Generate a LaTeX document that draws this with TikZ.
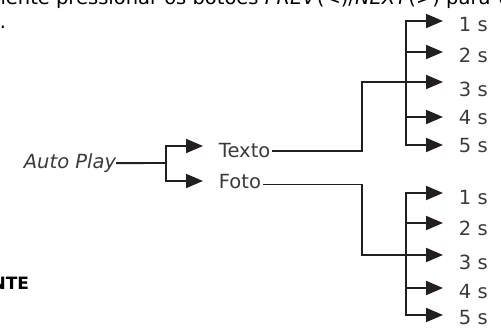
\documentclass[tikz,border=0pt]{standalone}
\usepackage{fontspec}
\setmainfont{DejaVu Sans}
\usetikzlibrary{arrows.meta}
\usetikzlibrary{positioning}
\definecolor{inkline}{HTML}{231F20}
\definecolor{inktext}{HTML}{3A3A3A}

\begin{document}
\begin{tikzpicture}[x=1pt,y=-1pt,>={Triangle[length=17pt,width=14pt]},
	line width=1.9pt,
	lbl/.style={inner sep=0pt,text=inktext,font=\fontsize{19.5}{22}\selectfont},
	wire/.style={draw=inkline,line cap=rect},
	tip/.style={wire,->,shorten >=15pt}]

	\useasboundingbox (0,0) rectangle (501,336);
	\clip (0,0) rectangle (501,336);

	% cut-off text of the page
	\node[lbl,anchor=base west,text=black] (head) at (-14,5) {mente pressionar os botões \textit{PREV}(<)/\textit{NEXT}(>) para v};
	\node[lbl,anchor=base west,text=black] (dot) at (-1,29) {.};
	\node[lbl,anchor=base east,text=black,font=\fontsize{17}{20}\selectfont\bfseries] (warn) at (30,290) {NTE};

	% modes
	\node[lbl,anchor=base east,font=\fontsize{19.5}{22}\selectfont\itshape] (auto) at (117,168.5) {Auto Play};
	\node[lbl,anchor=base west] (texto) at (218,158) {Texto};
	\node[lbl,anchor=base west] (foto) at (218,188.5) {Foto};

	\coordinate (fork) at (166,163);
	\coordinate (fork a) at (166,146);
	\coordinate (fork b) at (166,181);
	\coordinate (kt) at (362,82);
	\coordinate (kf) at (362,255);

	% times
	\foreach \i/\ya/\yb in {1/21/32,2/52/63,3/82/97,4/117/125,5/145/153}{
		\coordinate (u\i) at (406,\ya);
		\node[lbl,anchor=base west] (us\i) at (458,\yb) {\i\ s};
	}
	\foreach \i/\ya/\yb in {1/193/205,2/223/236,3/255/270,4/288/299,5/315/325}{
		\coordinate (l\i) at (406,\ya);
		\node[lbl,anchor=base west] (ls\i) at (458,\yb) {\i\ s};
	}

	\draw[wire] (auto.east) -- (fork);
	\draw[tip] (fork) -- (fork a) -- (fork a -| texto.west);
	\draw[tip] (fork) -- (fork b) -- (fork b -| foto.west);

	\draw[wire] ([xshift=2pt]texto.east) -| (kt) -- (u3);
	\draw[wire] ([xshift=2pt,yshift=-3pt]foto.east) -| (kf) -- (l3);

	\draw[wire] (u1) -- (u5);
	\draw[wire] (l1) -- (l5);
	\foreach \i in {1,...,5}{
		\draw[tip] (u\i) -- (u\i -| us\i.west);
		\draw[tip] (l\i) -- (l\i -| ls\i.west);
	}
\end{tikzpicture}
\end{document}
